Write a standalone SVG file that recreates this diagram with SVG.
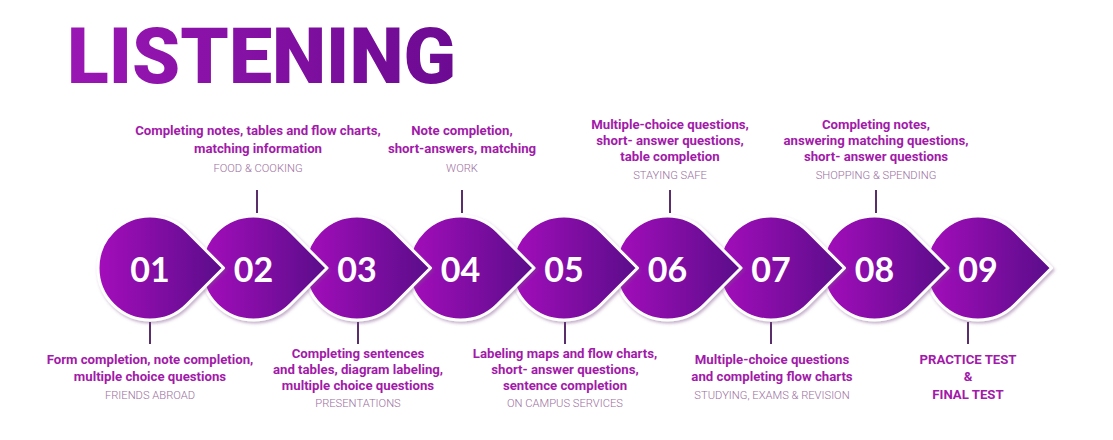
<svg xmlns="http://www.w3.org/2000/svg" width="1113" height="440" viewBox="0 0 1113 440">
<defs>
<linearGradient id="g" x1="0" y1="0" x2="1" y2="0">
<stop offset="0" stop-color="#a40fbb"/>
<stop offset="1" stop-color="#5a0a8a"/>
</linearGradient>
<linearGradient id="tg" x1="0" y1="0" x2="1" y2="0">
<stop offset="0" stop-color="#9a16b4"/>
<stop offset="1" stop-color="#6c0a92"/>
</linearGradient>
<filter id="sh" x="-20%" y="-20%" width="140%" height="140%">
<feDropShadow dx="1.5" dy="2" stdDeviation="1.8" flood-color="#7a4a8a" flood-opacity="0.45"/>
</filter>
<path id="drop" d="M73.5 0 L36.77 36.77 A52 52 0 1 1 36.77 -36.77 Z"/>
</defs>
<style>
.shape{fill:url(#g);stroke:#fff;stroke-width:3;stroke-linejoin:round;filter:url(#sh)}
.num{font-family:"Lato","Open Sans",sans-serif;font-weight:700;font-size:34px;fill:#fff;text-anchor:middle}
.lbl{font-family:Roboto,"Liberation Sans",sans-serif;font-weight:700;font-size:13.2px;fill:#a21aa9;text-anchor:middle}
.sub{font-family:Roboto,"Liberation Sans",sans-serif;font-weight:300;font-size:11.2px;fill:#9c6fa0;text-anchor:middle}
.ln{stroke:#5a2d6b;stroke-width:2}
</style>
<rect width="1113" height="440" fill="#fff"/>
<text x="67" y="83" font-family="Roboto,'Liberation Sans',sans-serif" font-weight="900" font-size="78" fill="url(#tg)" textLength="389" lengthAdjust="spacingAndGlyphs">LISTENING</text>

<g id="connectors">
<line class="ln" x1="150" y1="322" x2="150" y2="344"/>
<line class="ln" x1="257" y1="190" x2="257" y2="213"/>
<line class="ln" x1="358" y1="322" x2="358" y2="344"/>
<line class="ln" x1="462" y1="190" x2="462" y2="213"/>
<line class="ln" x1="565" y1="322" x2="565" y2="344"/>
<line class="ln" x1="670" y1="190" x2="670" y2="213"/>
<line class="ln" x1="771" y1="322" x2="771" y2="344"/>
<line class="ln" x1="876" y1="190" x2="876" y2="213"/>
<line class="ln" x1="968" y1="322" x2="968" y2="344"/>
</g>

<g id="node09">
<use href="#drop" class="shape" x="978" y="268"/>
<text class="num" x="978" y="282">09</text>
<text class="lbl" x="968" y="364">PRACTICE TEST</text>
<text class="lbl" x="968" y="381">&amp;</text>
<text class="lbl" x="968" y="399">FINAL TEST</text>
</g>
<g id="node08">
<use href="#drop" class="shape" x="874.5" y="268"/>
<text class="num" x="874.5" y="282">08</text>
<text class="lbl" x="876" y="129">Completing notes,</text>
<text class="lbl" x="876" y="145">answering matching questions,</text>
<text class="lbl" x="876" y="161">short- answer questions</text>
<text class="sub" x="876" y="179">SHOPPING &amp; SPENDING</text>
</g>
<g id="node07">
<use href="#drop" class="shape" x="771" y="268"/>
<text class="num" x="771" y="282">07</text>
<text class="lbl" x="772" y="364">Multiple-choice questions</text>
<text class="lbl" x="772" y="381">and completing flow charts</text>
<text class="sub" x="772" y="399">STUDYING, EXAMS &amp; REVISION</text>
</g>
<g id="node06">
<use href="#drop" class="shape" x="667.5" y="268"/>
<text class="num" x="667.5" y="282">06</text>
<text class="lbl" x="670" y="129">Multiple-choice questions,</text>
<text class="lbl" x="670" y="145">short- answer questions,</text>
<text class="lbl" x="670" y="161">table completion</text>
<text class="sub" x="670" y="179">STAYING SAFE</text>
</g>
<g id="node05">
<use href="#drop" class="shape" x="564" y="268"/>
<text class="num" x="564" y="282">05</text>
<text class="lbl" x="565" y="358">Labeling maps and flow charts,</text>
<text class="lbl" x="565" y="374">short- answer questions,</text>
<text class="lbl" x="565" y="390">sentence completion</text>
<text class="sub" x="565" y="407">ON CAMPUS SERVICES</text>
</g>
<g id="node04">
<use href="#drop" class="shape" x="460.5" y="268"/>
<text class="num" x="460.5" y="282">04</text>
<text class="lbl" x="462" y="135">Note completion,</text>
<text class="lbl" x="462" y="153">short-answers, matching</text>
<text class="sub" x="462" y="172">WORK</text>
</g>
<g id="node03">
<use href="#drop" class="shape" x="357" y="268"/>
<text class="num" x="357" y="282">03</text>
<text class="lbl" x="358" y="358">Completing sentences</text>
<text class="lbl" x="358" y="374">and tables, diagram labeling,</text>
<text class="lbl" x="358" y="390">multiple choice questions</text>
<text class="sub" x="358" y="407">PRESENTATIONS</text>
</g>
<g id="node02">
<use href="#drop" class="shape" x="253.5" y="268"/>
<text class="num" x="253.5" y="282">02</text>
<text class="lbl" x="258" y="135">Completing notes, tables and flow charts,</text>
<text class="lbl" x="258" y="153">matching information</text>
<text class="sub" x="258" y="172">FOOD &amp; COOKING</text>
</g>
<g id="node01">
<use href="#drop" class="shape" x="150" y="268"/>
<text class="num" x="150" y="282">01</text>
<text class="lbl" x="150" y="364">Form completion, note completion,</text>
<text class="lbl" x="150" y="381">multiple choice questions</text>
<text class="sub" x="150" y="399">FRIENDS ABROAD</text>
</g>
</svg>
